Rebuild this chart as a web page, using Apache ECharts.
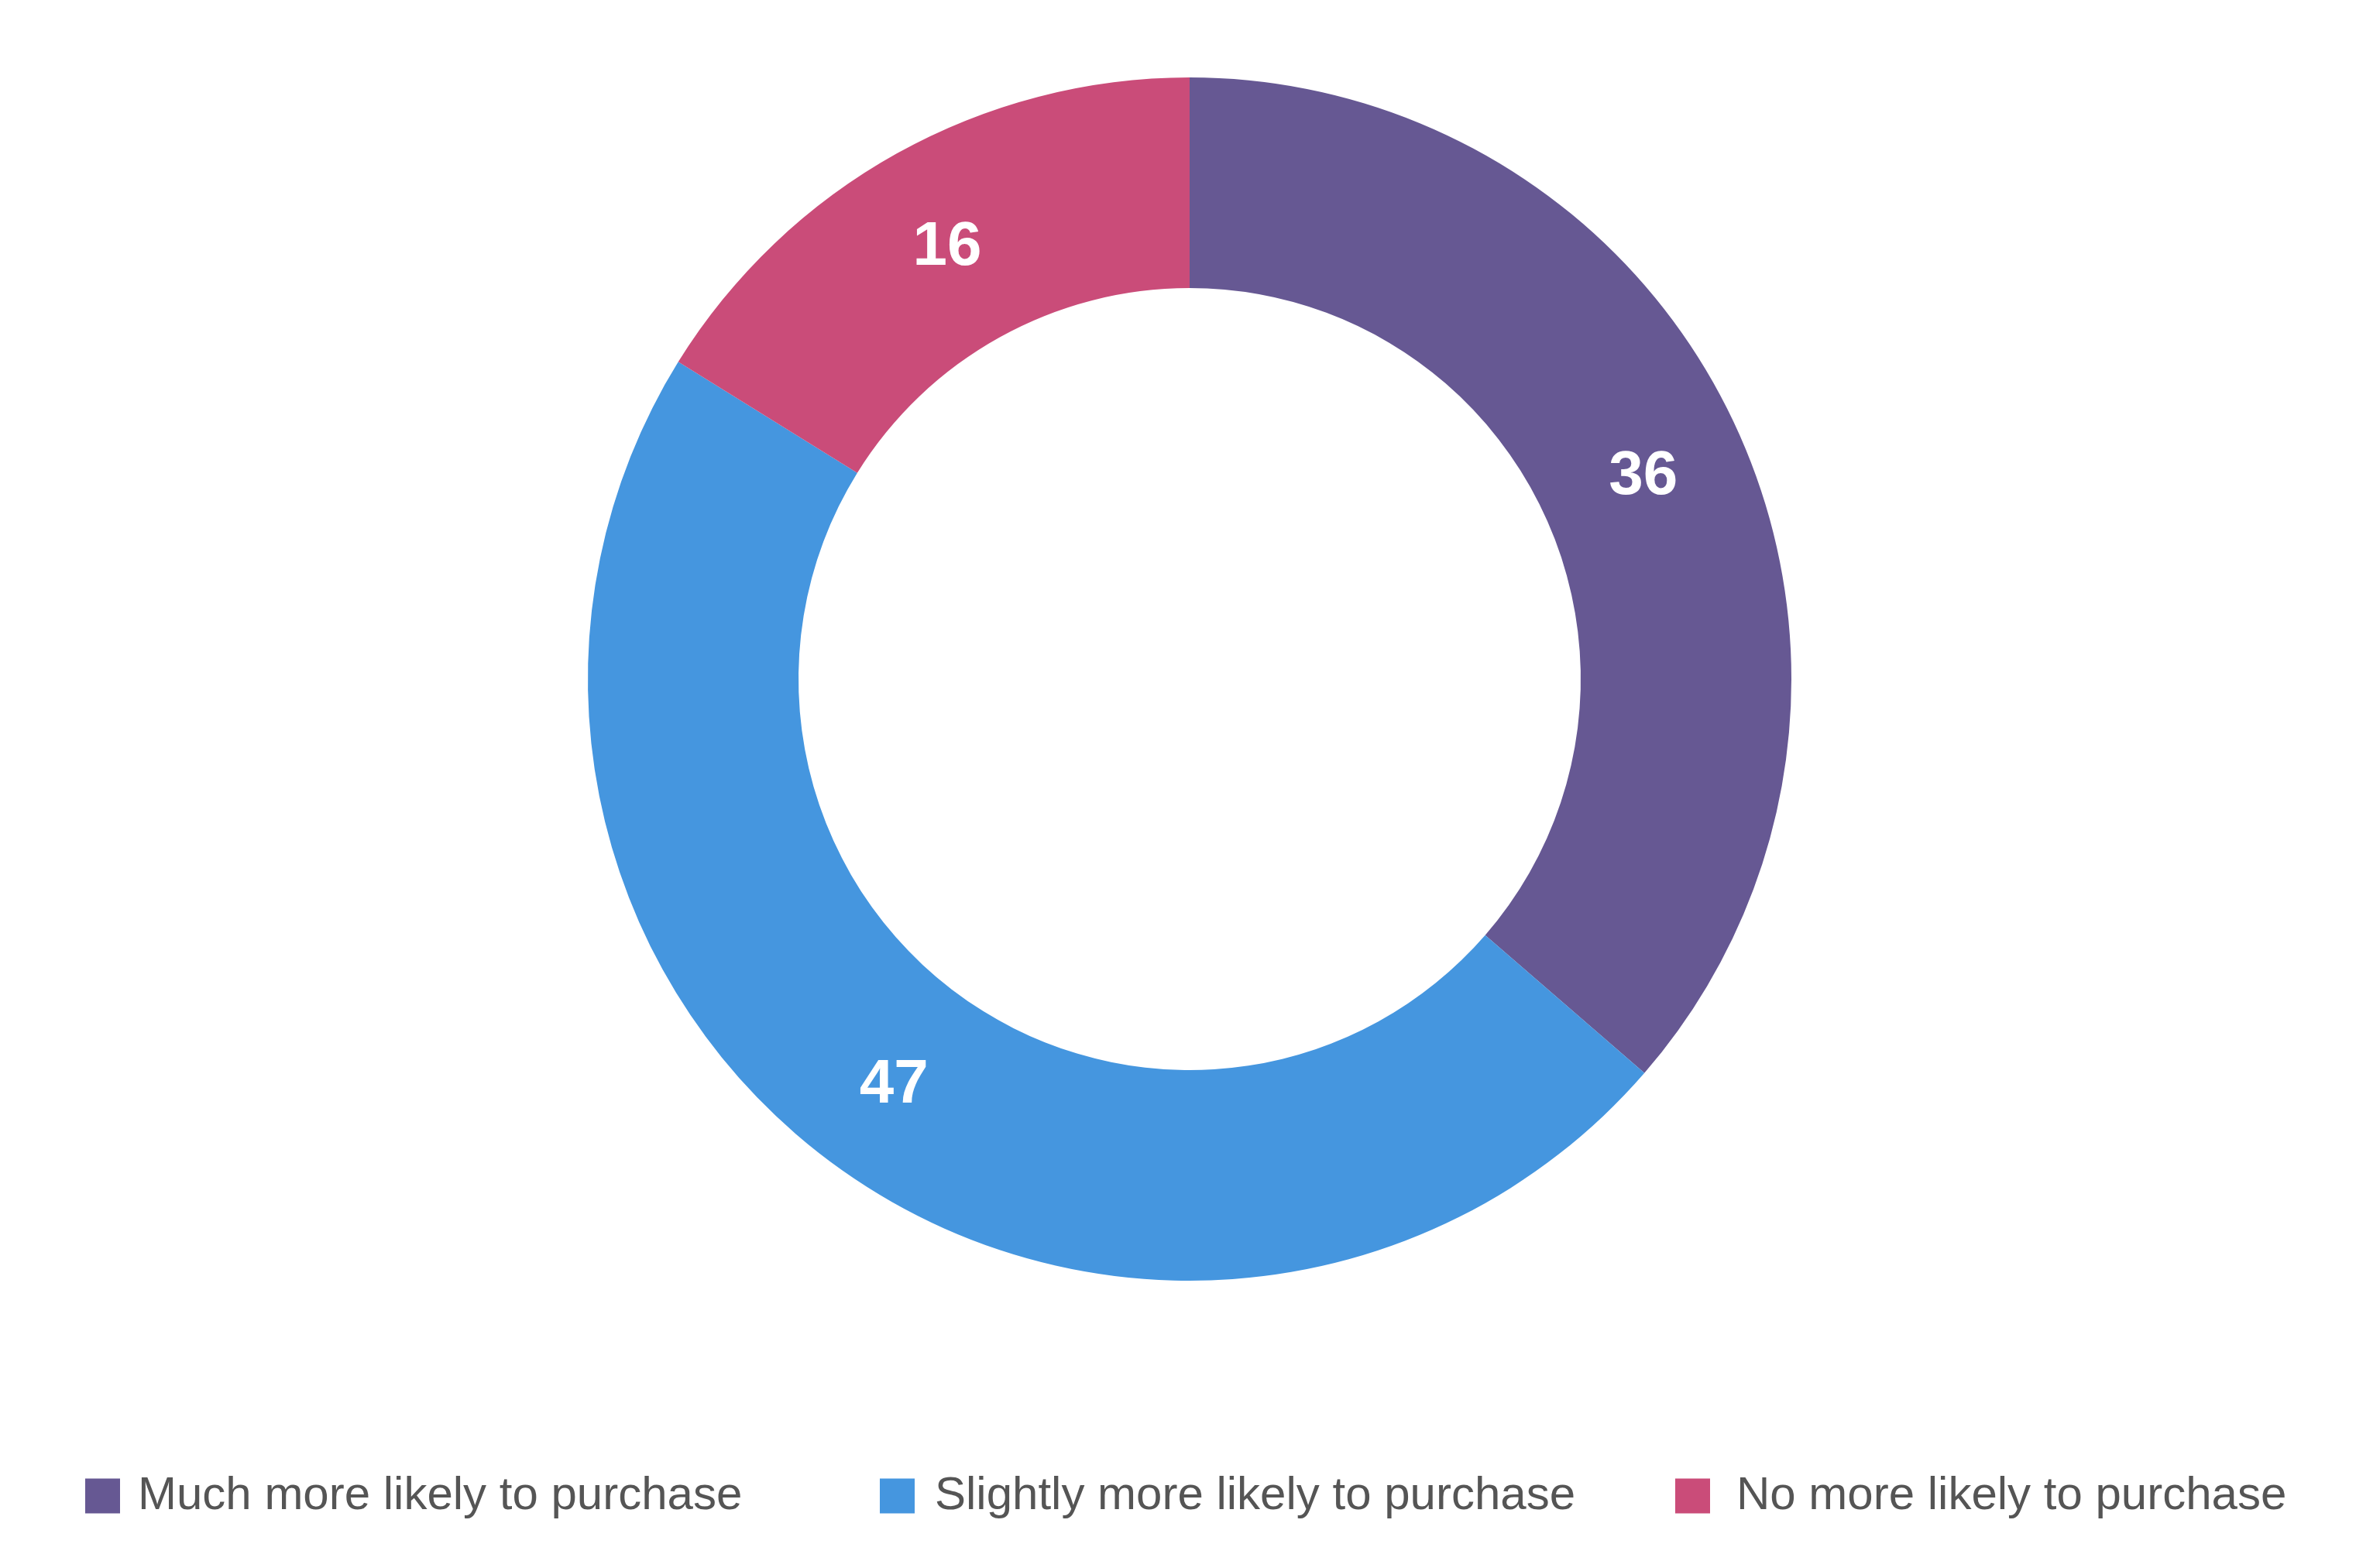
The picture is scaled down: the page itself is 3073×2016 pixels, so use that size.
<!DOCTYPE html>
<html>
<head>
<meta charset="utf-8">
<script src="https://cdn.jsdelivr.net/npm/echarts@6/dist/echarts.min.js"></script>
<style>
html,body{margin:0;padding:0;background:#fff;}
#chart{width:3073px;height:2016px;}
</style>
</head>
<body>
<div id="chart"></div>
<script>
const categories = ['Much more likely to purchase', 'Slightly more likely to purchase', 'No more likely to purchase'];
const values = [36, 47, 16];
const palette = ['#665893', '#4596DF', '#CA4C79'];

const FONT = '"Liberation Sans", Arial, Helvetica, sans-serif';
const chart = echarts.init(document.getElementById('chart'), null, {renderer: 'canvas'});

const legendLefts = [110, 1136, 2163];
const legendPads = [18, 21, 29];

const legends = categories.map((name, i) => ({
  data: [name],
  left: legendLefts[i],
  top: 1900,
  orient: 'horizontal',
  itemWidth: 45,
  itemHeight: 45,
  icon: 'rect',
  selectedMode: false,
  padding: 0,
  textStyle: {
    fontFamily: FONT,
    fontSize: 60,
    lineHeight: 60,
    color: '#555555',
    padding: [4, 0, 0, legendPads[i]]
  }
}));

chart.setOption({
  animation: false,
  backgroundColor: '#ffffff',
  color: palette,
  legend: legends,
  series: [{
    type: 'pie',
    center: [1536, 877],
    radius: [505, 777],
    startAngle: 90,
    clockwise: true,
    avoidLabelOverlap: false,
    silent: true,
    itemStyle: {borderWidth: 0},
    label: {
      show: true,
      position: 'inside',
      formatter: '{c}',
      fontFamily: FONT,
      fontSize: 80,
      fontWeight: 'bold',
      color: '#ffffff',
      offset: [0, 6]
    },
    labelLine: {show: false},
    emphasis: {disabled: true},
    data: categories.map((name, i) => ({name: name, value: values[i]}))
  }]
});
</script>
</body>
</html>
